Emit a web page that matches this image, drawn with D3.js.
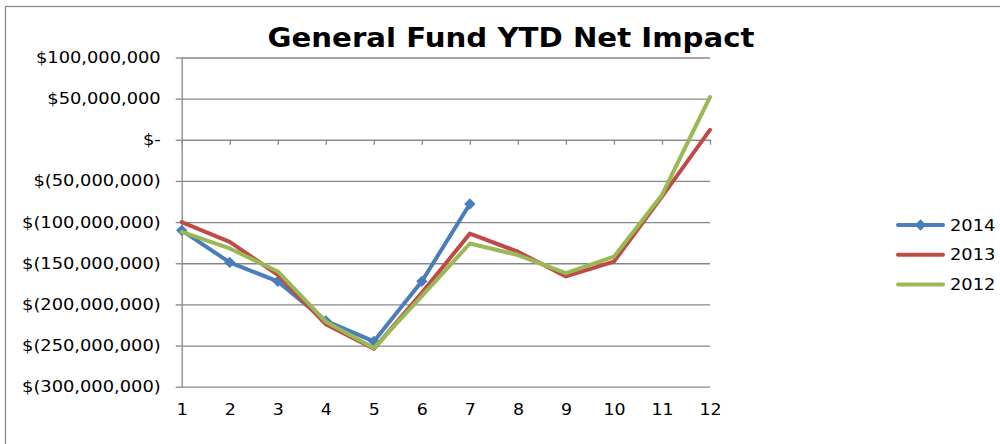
<!DOCTYPE html>
<meta charset="utf-8">
<style>
body { margin: 0; background: #fff; }
text { font-family: "DejaVu Sans", Verdana, sans-serif; fill: #000; }
.grid line { stroke: #878787; stroke-width: 1.3; }
.grid path { display: none; }
.axis path, .axis line { stroke: #878787; stroke-width: 1.3; fill: none; }
.line { fill: none; stroke-width: 4; stroke-linejoin: round; stroke-linecap: round; }
</style>
<body>
<script src="https://cdn.jsdelivr.net/npm/d3@7"></script>
<script>

var months = [1, 2, 3, 4, 5, 6, 7, 8, 9, 10, 11, 12];
var yTicks = [100e6, 50e6, 0, -50e6, -100e6, -150e6, -200e6, -250e6, -300e6];

// values in millions of dollars
var fy2014 = [-110, -149, -172, -220, -245, -172, -78];
var fy2013 = [-100, -124, -164, -224, -254, -186, -114, -136, -166, -148, -69, 12];
var fy2012 = [-112, -132, -160, -221, -253, -190, -126, -140, -162, -142, -67, 52];

var seriesNames = ['2014', '2013', '2012'];
var seriesColors = ['#4a7ebb', '#be4b48', '#98b954'];

var W = 1000, H = 444;
var plotL = 181.7, plotR = 710, plotT = 57.5, plotB = 386.7;

var svg = d3.select('body').append('svg')
    .attr('width', W)
    .attr('height', H);

// the original fonts render a bit wider than DejaVu
function widen(sel, k) {
  sel.each(function() {
    var w = this.getComputedTextLength();
    d3.select(this)
        .attr('textLength', w * k)
        .attr('lengthAdjust', 'spacingAndGlyphs');
  });
}

// outer chart frame
svg.append('rect')
    .attr('x', 5.5).attr('y', 6.5)
    .attr('width', 1100).attr('height', 500)
    .attr('fill', 'none')
    .attr('stroke', '#8c8c8c')
    .attr('stroke-width', 1.3);

var x = d3.scalePoint()
    .domain(months)
    .range([plotL, plotR]);

var y = d3.scaleLinear()
    .domain([-300e6, 100e6])
    .range([plotB, plotT]);

function money(v) {
  if (v === 0) return '$-';
  var s = d3.format(',')(Math.abs(v));
  return v < 0 ? '$(' + s + ')' : '$' + s;
}

// horizontal gridlines
svg.append('g')
    .attr('class', 'grid')
    .attr('transform', 'translate(' + plotL + ',0)')
    .call(d3.axisLeft(y).tickValues(yTicks).tickSize(-(plotR - plotL)).tickFormat(''));

// value axis with outside ticks
var yAx = svg.append('g')
    .attr('class', 'axis')
    .attr('transform', 'translate(' + plotL + ',0)')
    .call(d3.axisLeft(y).tickValues(yTicks).tickSizeInner(6).tickSizeOuter(0)
      .tickPadding(15).tickFormat(money));
yAx.selectAll('text').style('font-size', '15.5px');
widen(yAx.selectAll('text'), 1.15);

// category axis crosses at zero
svg.append('g')
    .attr('class', 'axis')
    .attr('transform', 'translate(0,' + y(0) + ')')
    .call(d3.axisBottom(x).tickSizeInner(5).tickSizeOuter(0).tickFormat(''));

// category labels sit at the bottom
var xLab = svg.append('g')
    .attr('class', 'axis')
    .attr('transform', 'translate(0,' + plotB + ')')
    .call(d3.axisBottom(x).tickSize(0).tickPadding(17));
xLab.select('.domain').remove();
xLab.selectAll('text').style('font-size', '15.5px');
widen(xLab.selectAll('text'), 1.12);

var line = d3.line()
    .x(function(d, i) { return x(months[i]); })
    .y(function(d) { return y(d * 1e6); });

var data = [fy2014, fy2013, fy2012];

data.forEach(function(vals, k) {
  svg.append('path')
      .attr('class', 'line')
      .attr('d', line(vals))
      .attr('stroke', seriesColors[k]);
  if (k === 0) {
    svg.selectAll('.mark')
        .data(vals)
      .enter().append('path')
        .attr('d', d3.symbol().type(d3.symbolSquare).size(64))
        .attr('transform', function(d, i) {
          return 'translate(' + x(months[i]) + ',' + y(d * 1e6) + ') rotate(45)';
        })
        .attr('fill', seriesColors[0]);
  }
});

// title
svg.append('text')
    .attr('x', 511).attr('y', 47)
    .attr('text-anchor', 'middle')
    .attr('textLength', 487)
    .attr('lengthAdjust', 'spacingAndGlyphs')
    .style('font-size', '27px')
    .style('font-weight', 'bold')
    .text('General Fund YTD Net Impact');

// legend
var legend = svg.selectAll('.legend')
    .data(seriesNames)
  .enter().append('g')
    .attr('transform', function(d, i) { return 'translate(898,' + (225 + i * 29.7) + ')'; });

legend.append('line')
    .attr('x1', 0).attr('x2', 45)
    .attr('stroke', function(d, i) { return seriesColors[i]; })
    .attr('stroke-width', 4)
    .attr('stroke-linecap', 'round');

legend.filter(function(d, i) { return i === 0; })
  .append('path')
    .attr('d', d3.symbol().type(d3.symbolSquare).size(64))
    .attr('transform', 'translate(22.5,0) rotate(45)')
    .attr('fill', seriesColors[0]);

var legText = legend.append('text')
    .attr('x', 52).attr('dy', '0.36em')
    .style('font-size', '15.5px')
    .text(function(d) { return d; });
widen(legText, 1.15);

</script>
</body>
